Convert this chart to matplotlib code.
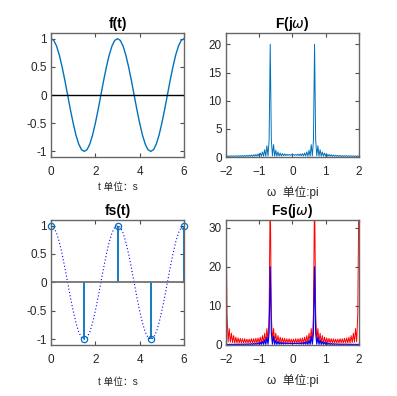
import numpy as np
import matplotlib.pyplot as plt

plt.rcParams['font.family'] = ['Liberation Sans Narrow', 'Liberation Sans', 'Noto Sans CJK SC', 'DejaVu Sans']
plt.rcParams['mathtext.fontset'] = 'dejavusans'

t_cont = np.linspace(0, 6, 49)
f_vals = [1.0, 0.97, 0.87, 0.71, 0.5, 0.26, 0.0, -0.26, -0.5, -0.71, -0.87, -0.97,
          -1.0, -0.97, -0.87, -0.71, -0.5, -0.26, 0.0, 0.26, 0.5, 0.71, 0.87, 0.97,
          1.0, 0.97, 0.87, 0.71, 0.5, 0.26, 0.0, -0.26, -0.5, -0.71, -0.87, -0.97,
          -1.0, -0.97, -0.87, -0.71, -0.5, -0.26, 0.0, 0.26, 0.5, 0.71, 0.87, 0.97,
          1.0]

# samples
t_samp = [0, 1.5, 3, 4.5, 6]
f_samp = [1, -1, 1, -1, 1]

# spectrum, omega in units of pi
w = np.linspace(-2, 2, 121)
F_mag = [0.08, 0.20, 0.08, 0.21, 0.08, 0.22, 0.10, 0.22, 0.10, 0.23,
         0.10, 0.24, 0.10, 0.25, 0.10, 0.26, 0.10, 0.28, 0.10, 0.30,
         0.12, 0.32, 0.12, 0.35, 0.12, 0.40, 0.12, 0.45, 0.15, 0.55,
         0.15, 0.70, 0.15, 0.90, 0.15, 1.30, 0.15, 2.00, 0.20, 3.00,
         20.0,
         3.00, 0.20, 2.20, 0.15, 1.20, 0.15, 0.90, 0.18, 0.70, 0.20,
         0.60, 0.22, 0.55, 0.25, 0.50, 0.28, 0.45, 0.30, 0.45,
         0.30,
         0.45, 0.30, 0.45, 0.28, 0.50, 0.25, 0.55, 0.22, 0.60, 0.20,
         0.70, 0.18, 0.90, 0.15, 1.20, 0.15, 2.20, 0.20, 3.00,
         20.0,
         3.00, 0.20, 2.00, 0.15, 1.30, 0.15, 0.90, 0.15, 0.70, 0.15,
         0.55, 0.15, 0.45, 0.12, 0.40, 0.12, 0.35, 0.12, 0.32, 0.12,
         0.30, 0.10, 0.28, 0.10, 0.26, 0.10, 0.25, 0.10, 0.24, 0.10,
         0.23, 0.10, 0.22, 0.10, 0.22, 0.08, 0.21, 0.08, 0.20, 0.08]

Fs_mag = [40,
          8, 0.8, 4.2, 0.7, 3.0, 0.6, 2.4, 0.5, 2.0, 0.5,
          1.8, 0.5, 1.7, 0.5, 1.6, 0.5, 1.6, 0.5, 1.5, 0.5,
          1.5, 0.5, 1.6, 0.5, 1.6, 0.5, 1.7, 0.5, 1.8, 0.5,
          2.0, 0.5, 2.4, 0.6, 3.0, 0.7, 4.2, 0.8, 8,
          40,
          8, 0.8, 4.2, 0.7, 3.0, 0.6, 2.4, 0.5, 2.0, 0.5,
          1.8, 0.5, 1.7, 0.5, 1.6, 0.5, 1.6, 0.5, 1.5, 0.5,
          1.5, 0.5, 1.6, 0.5, 1.6, 0.5, 1.7, 0.5, 1.8, 0.5,
          2.0, 0.5, 2.4, 0.6, 3.0, 0.7, 4.2, 0.8, 8,
          40,
          8, 0.8, 4.2, 0.7, 3.0, 0.6, 2.4, 0.5, 2.0, 0.5,
          1.8, 0.5, 1.7, 0.5, 1.6, 0.5, 1.6, 0.5, 1.5, 0.5,
          1.5, 0.5, 1.6, 0.5, 1.6, 0.5, 1.7, 0.5, 1.8, 0.5,
          2.0, 0.5, 2.4, 0.6, 3.0, 0.7, 4.2, 0.8, 8,
          40]

mblue = '#0072BD'
txt = '#262626'

fig = plt.figure(figsize=(3.97, 3.96), dpi=100)
ax1 = fig.add_axes([0.1285, 0.6035, 0.335, 0.313])
ax2 = fig.add_axes([0.569, 0.6035, 0.335, 0.313])
ax3 = fig.add_axes([0.1285, 0.1288, 0.335, 0.316])
ax4 = fig.add_axes([0.569, 0.1288, 0.335, 0.316])


def style(ax):
    for s in ax.spines.values():
        s.set_color('0.4')
        s.set_linewidth(1.0)
    ax.tick_params(direction='in', top=True, right=True, length=3,
                   width=0.8, color='0.3', labelsize=8.5, labelcolor=txt)
    ax.tick_params(axis='x', pad=6.5)
    ax.tick_params(axis='y', pad=3)


# f(t)
ax1.plot(t_cont, f_vals, color=mblue, lw=1.0)
ax1.plot([0, 6], [0, 0], color='k', lw=1.0)
ax1.set_xlim(0, 6)
ax1.set_ylim(-1.1, 1.1)
ax1.set_xticks([0, 2, 4, 6])
ax1.set_yticks([-1, -0.5, 0, 0.5, 1])
ax1.set_yticklabels(['-1', '-0.5', '0', '0.5', '1'])
ax1.set_title('f(t)', fontsize=10, fontweight='bold', pad=3.5)
ax1.set_xlabel('t 单位：s', fontsize=7, color=txt)
ax1.xaxis.set_label_coords(0.5, -0.2)
style(ax1)

# F(jw)
ax2.plot(w, F_mag, color=mblue, lw=0.7)
ax2.set_xlim(-2, 2)
ax2.set_ylim(0, 22)
ax2.set_xticks([-2, -1, 0, 1, 2])
ax2.set_yticks([0, 5, 10, 15, 20])
ax2.set_title('F(j$\\omega$)', fontsize=10, fontweight='bold', pad=3.5)
ax2.set_xlabel('ω  单位:pi', fontsize=8.5, color=txt)
ax2.xaxis.set_label_coords(0.5, -0.23)
style(ax2)

# fs(t)
ax3.plot(t_cont, f_vals, color='b', lw=0.8, ls=(0, (1, 2)))
ml, sl, bl = ax3.stem(t_samp, f_samp, linefmt='-', markerfmt='o', basefmt='-')
plt.setp(sl, color=mblue, lw=1.3)
plt.setp(ml, markerfacecolor='none', markeredgecolor=mblue, markersize=4.5, mew=0.9)
plt.setp(bl, color='0.45', lw=1.3)
ml.set_clip_on(False)
ax3.set_xlim(0, 6)
ax3.set_ylim(-1.1, 1.1)
ax3.set_xticks([0, 2, 4, 6])
ax3.set_yticks([-1, -0.5, 0, 0.5, 1])
ax3.set_yticklabels(['-1', '-0.5', '0', '0.5', '1'])
ax3.set_title('fs(t)', fontsize=10, fontweight='bold', pad=3.5)
ax3.set_xlabel('t 单位：s', fontsize=7, color=txt)
ax3.xaxis.set_label_coords(0.5, -0.255)
style(ax3)

# Fs(jw)
ax4.plot(w, Fs_mag, color='r', lw=0.7)
ax4.plot(w, F_mag, color='b', lw=0.8)
ax4.set_xlim(-2, 2)
ax4.set_ylim(0, 32)
ax4.set_xticks([-2, -1, 0, 1, 2])
ax4.set_yticks([0, 10, 20, 30])
ax4.set_title('Fs(j$\\omega$)', fontsize=10, fontweight='bold', pad=3.5)
ax4.set_xlabel('ω  单位:pi', fontsize=8.5, color=txt)
ax4.xaxis.set_label_coords(0.5, -0.23)
style(ax4)

fig.savefig('out.png', dpi=100)
